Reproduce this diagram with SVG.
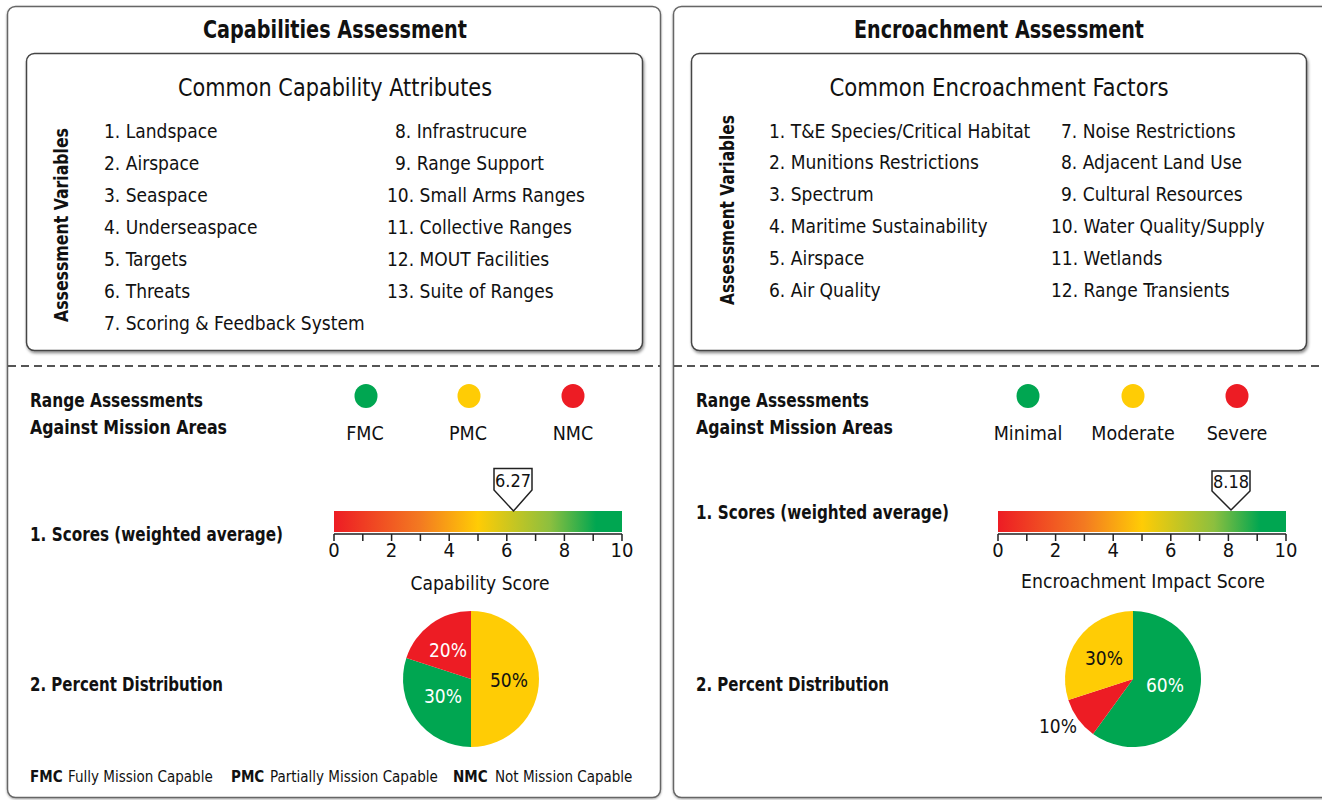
<svg xmlns="http://www.w3.org/2000/svg" width="1322" height="800" viewBox="0 0 1322 800">
<style>
text{font-family:"Liberation Sans Narrow","DejaVu Sans Condensed","Liberation Sans",sans-serif;font-stretch:condensed;fill:#111}
.title{font-size:25px;font-weight:bold;text-anchor:middle}
.sub{font-size:24px;text-anchor:middle}
.item{font-size:19px}
.vlab{font-size:19px;font-weight:bold;text-anchor:middle}
.blab{font-size:19px;font-weight:bold}
.leg{font-size:19.5px;text-anchor:middle}
.tick{font-size:20px;text-anchor:middle}
.axt{font-size:20px;text-anchor:middle}
.mk{font-size:18px;text-anchor:middle}
.pct{font-size:19px;text-anchor:middle}
.w{fill:#fff}
.foot{font-size:15px}
.footb{font-size:15px;font-weight:bold}
.outer{fill:#fff;stroke:#666;stroke-width:1.5}
.inner{fill:#fff;stroke:#444;stroke-width:1.5;filter:url(#sh)}
.dash{stroke:#555;stroke-width:2;stroke-dasharray:8 5}
.axis{stroke:#222;stroke-width:1.5;fill:none}
.marker{fill:#fff;stroke:#222;stroke-width:1.5}
</style>
<defs>
<filter id="sh" x="-5%" y="-5%" width="110%" height="115%">
<feDropShadow dx="1" dy="2" stdDeviation="1.5" flood-color="#000" flood-opacity="0.45"/>
</filter>
<filter id="sh2" x="-5%" y="-5%" width="110%" height="110%">
<feDropShadow dx="0" dy="1" stdDeviation="1" flood-color="#000" flood-opacity="0.35"/>
</filter>
<linearGradient id="grad" x1="0" y1="0" x2="1" y2="0">
<stop offset="0" stop-color="#ED1C24"/>
<stop offset="0.3" stop-color="#F37A21"/>
<stop offset="0.5" stop-color="#FFCC05"/>
<stop offset="0.75" stop-color="#8CBF3F"/>
<stop offset="0.91" stop-color="#00A651"/>
<stop offset="1" stop-color="#00A651"/>
</linearGradient>
</defs>

<g id="capabilities-panel">
<rect class="outer" x="7.5" y="6.5" width="653" height="791" rx="8" filter="url(#sh2)"/>
<text class="title" x="335" y="38" textLength="264" lengthAdjust="spacingAndGlyphs">Capabilities Assessment</text>
<line class="dash" x1="8" y1="366" x2="660" y2="366"/>
</g>

<g id="capability-attributes">
<rect class="inner" x="26.5" y="53.5" width="616" height="297" rx="8"/>
<text class="sub" x="335" y="96" textLength="314" lengthAdjust="spacingAndGlyphs">Common Capability Attributes</text>
<text class="vlab" transform="translate(68,225) rotate(-90)" textLength="194" lengthAdjust="spacingAndGlyphs">Assessment Variables</text>
<text class="item" x="104" y="138">1. Landspace</text>
<text class="item" x="104" y="170">2. Airspace</text>
<text class="item" x="104" y="202">3. Seaspace</text>
<text class="item" x="104" y="234">4. Underseaspace</text>
<text class="item" x="104" y="266">5. Targets</text>
<text class="item" x="104" y="298">6. Threats</text>
<text class="item" x="104" y="330">7. Scoring &amp; Feedback System</text>
<text class="item" x="395" y="138">8. Infrastrucure</text>
<text class="item" x="395" y="170">9. Range Support</text>
<text class="item" x="387" y="202">10. Small Arms Ranges</text>
<text class="item" x="387" y="234">11. Collective Ranges</text>
<text class="item" x="387" y="266">12. MOUT Facilities</text>
<text class="item" x="387" y="298">13. Suite of Ranges</text>
</g>

<g id="capability-legend">
<text class="blab" x="30" y="407" textLength="173" lengthAdjust="spacingAndGlyphs">Range Assessments</text>
<text class="blab" x="30" y="434" textLength="197" lengthAdjust="spacingAndGlyphs">Against Mission Areas</text>
<ellipse cx="366" cy="396" rx="11.5" ry="12" fill="#00A651"/>
<ellipse cx="469" cy="396" rx="11.5" ry="12" fill="#FFCC05"/>
<ellipse cx="573" cy="396" rx="11.5" ry="12" fill="#ED1C24"/>
<text class="leg" x="365" y="440">FMC</text>
<text class="leg" x="468" y="440">PMC</text>
<text class="leg" x="573" y="440">NMC</text>
</g>

<g id="capability-score">
<text class="blab" x="30" y="541" textLength="253" lengthAdjust="spacingAndGlyphs">1. Scores (weighted average)</text>
<rect x="334" y="511" width="288" height="21" fill="url(#grad)"/>
<path class="axis" d="M334,534 H622 M334,534 V541 M362.8,534 V541 M391.6,534 V541 M420.4,534 V541 M449.2,534 V541 M478,534 V541 M506.8,534 V541 M535.6,534 V541 M564.4,534 V541 M593.2,534 V541 M622,534 V541"/>
<text class="tick" x="334" y="557">0</text>
<text class="tick" x="391.6" y="557">2</text>
<text class="tick" x="449.2" y="557">4</text>
<text class="tick" x="506.8" y="557">6</text>
<text class="tick" x="564.4" y="557">8</text>
<text class="tick" x="622" y="557">10</text>
<text class="axt" x="480" y="590" textLength="139" lengthAdjust="spacingAndGlyphs">Capability Score</text>
<path class="marker" d="M494,468.5 H532 V490 L513.5,511 L494,490 Z"/>
<text class="mk" x="513" y="487">6.27</text>
</g>

<g id="capability-distribution">
<text class="blab" x="30" y="691" textLength="193" lengthAdjust="spacingAndGlyphs">2. Percent Distribution</text>
<path d="M471,679 L471,611 A68,68 0 0 1 471,747 Z" fill="#FFCC05"/>
<path d="M471,679 L471,747 A68,68 0 0 1 406.33,657.99 Z" fill="#00A651"/>
<path d="M471,679 L406.33,657.99 A68,68 0 0 1 471,611 Z" fill="#ED1C24"/>
<text class="pct w" x="448" y="657">20%</text>
<text class="pct w" x="443" y="703">30%</text>
<text class="pct" x="509" y="687">50%</text>
</g>

<g id="capability-footer">
<text class="footb" x="30" y="782">FMC</text>
<text class="foot" x="68" y="782">Fully Mission Capable</text>
<text class="footb" x="231" y="782">PMC</text>
<text class="foot" x="270" y="782">Partially Mission Capable</text>
<text class="footb" x="453" y="782">NMC</text>
<text class="foot" x="495" y="782">Not Mission Capable</text>
</g>

<g id="encroachment-panel">
<rect class="outer" x="673.5" y="6.5" width="662" height="791" rx="8" filter="url(#sh2)"/>
<text class="title" x="999" y="38" textLength="290" lengthAdjust="spacingAndGlyphs">Encroachment Assessment</text>
<line class="dash" x1="674" y1="366" x2="1322" y2="366"/>
</g>

<g id="encroachment-factors">
<rect class="inner" x="691.5" y="53.5" width="615" height="297" rx="8"/>
<text class="sub" x="999" y="96" textLength="339" lengthAdjust="spacingAndGlyphs">Common Encroachment Factors</text>
<text class="vlab" transform="translate(734,210) rotate(-90)" textLength="190" lengthAdjust="spacingAndGlyphs">Assessment Variables</text>
<text class="item" x="769" y="138">1. T&amp;E Species/Critical Habitat</text>
<text class="item" x="769" y="169">2. Munitions Restrictions</text>
<text class="item" x="769" y="201">3. Spectrum</text>
<text class="item" x="769" y="233">4. Maritime Sustainability</text>
<text class="item" x="769" y="265">5. Airspace</text>
<text class="item" x="769" y="297">6. Air Quality</text>
<text class="item" x="1061" y="138">7. Noise Restrictions</text>
<text class="item" x="1061" y="169">8. Adjacent Land Use</text>
<text class="item" x="1061" y="201">9. Cultural Resources</text>
<text class="item" x="1051" y="233">10. Water Quality/Supply</text>
<text class="item" x="1051" y="265">11. Wetlands</text>
<text class="item" x="1051" y="297">12. Range Transients</text>
</g>

<g id="encroachment-legend">
<text class="blab" x="696" y="407" textLength="173" lengthAdjust="spacingAndGlyphs">Range Assessments</text>
<text class="blab" x="696" y="434" textLength="197" lengthAdjust="spacingAndGlyphs">Against Mission Areas</text>
<ellipse cx="1028" cy="396" rx="11.5" ry="12" fill="#00A651"/>
<ellipse cx="1133" cy="396" rx="11.5" ry="12" fill="#FFCC05"/>
<ellipse cx="1237" cy="396" rx="11.5" ry="12" fill="#ED1C24"/>
<text class="leg" x="1028" y="440">Minimal</text>
<text class="leg" x="1133" y="440">Moderate</text>
<text class="leg" x="1237" y="440">Severe</text>
</g>

<g id="encroachment-score">
<text class="blab" x="696" y="519" textLength="253" lengthAdjust="spacingAndGlyphs">1. Scores (weighted average)</text>
<rect x="998" y="511" width="288" height="21" fill="url(#grad)"/>
<path class="axis" d="M998,534 H1286 M998,534 V541 M1026.8,534 V541 M1055.6,534 V541 M1084.4,534 V541 M1113.2,534 V541 M1142,534 V541 M1170.8,534 V541 M1199.6,534 V541 M1228.4,534 V541 M1257.2,534 V541 M1286,534 V541"/>
<text class="tick" x="998" y="557">0</text>
<text class="tick" x="1055.6" y="557">2</text>
<text class="tick" x="1113.2" y="557">4</text>
<text class="tick" x="1170.8" y="557">6</text>
<text class="tick" x="1228.4" y="557">8</text>
<text class="tick" x="1286" y="557">10</text>
<text class="axt" x="1143" y="588" textLength="244" lengthAdjust="spacingAndGlyphs">Encroachment Impact Score</text>
<path class="marker" d="M1212,471 H1250 V491 L1231,510 L1212,491 Z"/>
<text class="mk" x="1231" y="488">8.18</text>
</g>

<g id="encroachment-distribution">
<text class="blab" x="696" y="691" textLength="193" lengthAdjust="spacingAndGlyphs">2. Percent Distribution</text>
<path d="M1133,679 L1133,611 A68,68 0 1 1 1093.03,734.01 Z" fill="#00A651"/>
<path d="M1133,679 L1093.03,734.01 A68,68 0 0 1 1068.33,700.01 Z" fill="#ED1C24"/>
<path d="M1133,679 L1068.33,700.01 A68,68 0 0 1 1133,611 Z" fill="#FFCC05"/>
<text class="pct" x="1104" y="665">30%</text>
<text class="pct w" x="1165" y="692">60%</text>
<text class="pct" x="1058" y="733">10%</text>
</g>
</svg>
